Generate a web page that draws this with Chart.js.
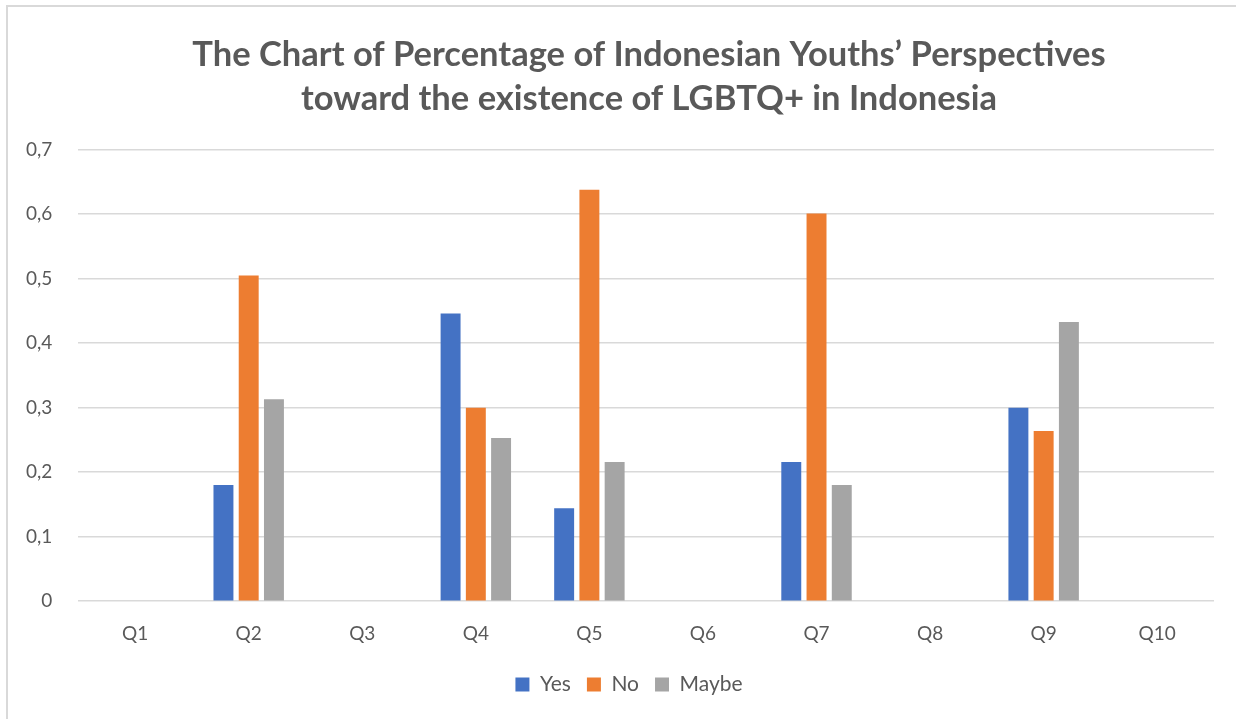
<!DOCTYPE html>
<html>
<head>
<meta charset="utf-8">
<script src="https://cdn.jsdelivr.net/npm/chart.js@4/dist/chart.umd.min.js"></script>
<style>
  html, body { margin: 0; padding: 0; background: #ffffff; overflow: hidden; }
  #wrap { position: absolute; left: 0; top: 0; width: 1236px; height: 719px; }
  #frame { position: absolute; left: 6px; top: 5px; width: 1250px; height: 740px; border: 2px solid #d9d9d9; box-sizing: border-box; pointer-events: none; }
</style>
</head>
<body>
<div id="wrap"><canvas id="c" width="1236" height="719"></canvas></div>
<div id="frame"></div>
<script>
const categories = ['Q1', 'Q2', 'Q3', 'Q4', 'Q5', 'Q6', 'Q7', 'Q8', 'Q9', 'Q10'];
const yesValues   = [null, 0.180, null, 0.446, 0.144, null, 0.216, null, 0.300, null];
const noValues    = [null, 0.505, null, 0.300, 0.638, null, 0.601, null, 0.264, null];
const maybeValues = [null, 0.313, null, 0.253, 0.216, null, 0.180, null, 0.433, null];
const yTicks = [0, 0.1, 0.2, 0.3, 0.4, 0.5, 0.6, 0.7];
const titleLines = ['The Chart of Percentage of Indonesian Youths\u2019 Perspectives', 'toward the existence of LGBTQ+ in Indonesia'];

const FONT = "Lato, 'Open Sans', sans-serif";
const TXT = '#595959';

// The original chart is cropped on the right, so its title and legend sit right of the canvas centre.
const shiftBlocks = {
  id: 'shiftBlocks',
  afterLayout(chart) {
    const t = chart.titleBlock;
    if (t) { t.left += 42; t.right += 42; }
    const l = chart.legend;
    if (l) { l.left += 22; l.right += 22; }
  }
};

new Chart(document.getElementById('c'), {
  type: 'bar',
  data: {
    labels: categories,
    datasets: [
      { label: 'Yes', data: yesValues, backgroundColor: '#4472C4' },
      { label: 'No', data: noValues, backgroundColor: '#ED7D31' },
      { label: 'Maybe', data: maybeValues, backgroundColor: '#A5A5A5' }
    ]
  },
  plugins: [shiftBlocks],
  options: {
    responsive: false,
    animation: false,
    devicePixelRatio: 1,
    categoryPercentage: 0.667,
    barPercentage: 0.79,
    layout: { padding: { left: 0, right: 22, top: 32, bottom: 14 } },
    plugins: {
      title: {
        display: true,
        text: titleLines,
        color: TXT,
        font: { family: FONT, size: 34.5, weight: 'bold', lineHeight: 1.3 },
        padding: { top: 0, bottom: 28 }
      },
      legend: {
        position: 'bottom',
        labels: {
          color: TXT,
          font: { family: FONT, size: 21 },
          boxWidth: 14,
          boxHeight: 14,
          padding: 16
        }
      },
      tooltip: { enabled: false }
    },
    scales: {
      x: {
        grid: { display: false },
        border: { display: false },
        ticks: { color: TXT, font: { family: FONT, size: 19 }, padding: 13 }
      },
      y: {
        min: 0,
        max: 0.7,
        afterBuildTicks: (axis) => { axis.ticks = yTicks.map(v => ({ value: v })); },
        grid: { color: '#d9d9d9', lineWidth: 1.5, drawTicks: false },
        border: { display: false },
        ticks: {
          color: TXT,
          font: { family: FONT, size: 19 },
          padding: 26,
          callback: (v) => String(Math.round(v * 10) / 10).replace('.', ',')
        }
      }
    }
  }
});
</script>
</body>
</html>
